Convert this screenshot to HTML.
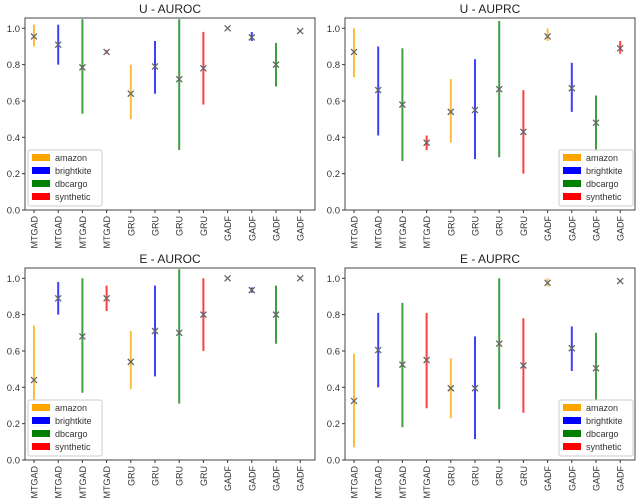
<!DOCTYPE html><html><head><style>body{margin:0;background:#fff}svg{display:block;font-family:"Liberation Sans",sans-serif}</style></head><body>
<svg id="s" width="640" height="504" xmlns="http://www.w3.org/2000/svg"></svg>
<script>
const C=['#ffa500','#0000ff','#008000','#ff0000'];
const names=['MTGAD','MTGAD','MTGAD','MTGAD','GRU','GRU','GRU','GRU','GADF','GADF','GADF','GADF'];
const panels=[
{ox:0,oy:0,t:'U - AUROC',leg:'l',d:[[.955,.9,1.02],[.91,.8,1.02],[.785,.53,1.05],[.87,.86,.88],[.64,.5,.8],[.79,.64,.93],[.72,.33,1.05],[.78,.58,.98],[1,.995,1.005],[.95,.93,.98],[.8,.68,.92],[.985,.98,.99]]},
{ox:320,oy:0,t:'U - AUPRC',leg:'r',d:[[.87,.73,1.0],[.66,.41,.9],[.58,.27,.89],[.37,.33,.41],[.54,.37,.72],[.55,.28,.83],[.665,.29,1.04],[.43,.2,.66],[.955,.93,1.0],[.67,.54,.81],[.48,.33,.63],[.89,.86,.93]]},
{ox:0,oy:250,t:'E - AUROC',leg:'l',d:[[.44,.33,.74],[.89,.8,.98],[.68,.37,1.0],[.89,.82,.96],[.54,.39,.71],[.71,.46,.96],[.7,.31,1.05],[.8,.6,1.0],[1,.995,1.005],[.935,.92,.95],[.8,.64,.96],[1,.995,1.005]]},
{ox:320,oy:250,t:'E - AUPRC',leg:'r',d:[[.325,.07,.585],[.605,.4,.81],[.525,.18,.865],[.55,.285,.81],[.395,.23,.56],[.395,.115,.68],[.64,.28,1.0],[.52,.26,.78],[.975,.955,1.0],[.615,.49,.735],[.505,.32,.7],[.985,.98,.99]]}];
let h='';
for(const p of panels){
 const x0=p.ox+25,x1=p.ox+315,yt=p.oy+18,yb=p.oy+210;
 const Y=v=>p.oy+210-v*181.7;
 h+=`<text x="${p.ox+170}" y="${p.oy+13}" font-size="12" text-anchor="middle" fill="#222">${p.t}</text>`;
 for(let i=0;i<=5;i++){const v=i*0.2,y=Y(v);h+=`<line x1="${x0-3}" x2="${x0}" y1="${y}" y2="${y}" stroke="#333"/><text x="${x0-5}" y="${y+3.5}" font-size="9.5" text-anchor="end" fill="#333">${v.toFixed(1)}</text>`;}
 p.d.forEach((d,i)=>{const x=p.ox+34+i*24.2,c=C[i%4];
  h+=`<line x1="${x}" x2="${x}" y1="${Y(d[1])}" y2="${Math.max(Y(d[2]),yt)}" stroke="${c}" stroke-width="2" opacity="0.75"/>`;
  const ym=Y(d[0]);h+=`<path d="M${x-3} ${ym-3}L${x+3} ${ym+3}M${x-3} ${ym+3}L${x+3} ${ym-3}" stroke="#666" stroke-width="1.3"/>`;
  h+=`<line x1="${x}" x2="${x}" y1="${yb}" y2="${yb+3}" stroke="#333"/><text transform="translate(${x+3.5},${yb+6}) rotate(-90)" font-size="9" text-anchor="end" fill="#333">${names[i]}</text>`;});
 h+=`<rect x="${x0}" y="${yt}" width="${x1-x0}" height="${yb-yt}" fill="none" stroke="#444" stroke-width="1"/>`;
 const lx=p.leg=='l'?x0+3:x1-76,ly=p.oy+150;
 h+=`<rect x="${lx}" y="${ly}" width="74" height="56" rx="2" fill="#fff" stroke="#ccc"/>`;
 ['amazon','brightkite','dbcargo','synthetic'].forEach((n,k)=>{h+=`<rect x="${lx+4}" y="${ly+4+k*13}" width="18" height="7" fill="${C[k]}"/><text x="${lx+27}" y="${ly+11+k*13}" font-size="9" fill="#333">${n}</text>`;});
}
document.getElementById('s').innerHTML=h;
</script></body></html>
